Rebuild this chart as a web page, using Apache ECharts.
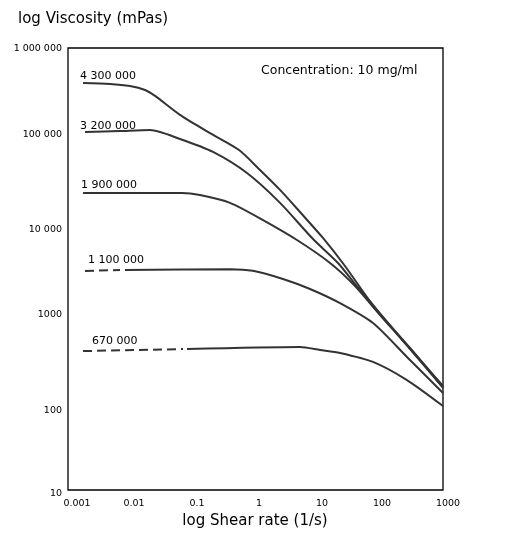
<!DOCTYPE html>
<html>
<head>
<meta charset="utf-8">
<script src="https://cdn.jsdelivr.net/npm/echarts@6/dist/echarts.min.js"></script>
<style>
  html, body { margin: 0; padding: 0; background: #fff; }
  #chart { width: 515px; height: 552px; }
</style>
</head>
<body>
<div id="chart"></div>
<script>
// tick labels (one per decade)
const xTickLabels = ['0.001', '0.01', '0.1', '1', '10', '100', '1000'];
const yTickLabels = ['10', '100', '1000', '10 000', '100 000', '1 000 000'];

// viscosity curves: [shear rate (1/s), viscosity (mPas)], one per molecular weight
const mw4300 = [[0.00174, 402000], [0.0047, 392000], [0.0098, 371000], [0.0171, 335000], [0.0247, 287000],
  [0.062, 175000], [0.187, 109000], [0.545, 70100], [1.18, 41700], [2.47, 24800], [5.15, 13960],
  [12.0, 7100], [27.0, 3420], [67.9, 1370], [205, 538], [1000, 150]];
const mw3200 = [[0.00187, 112000], [0.0068, 115000], [0.0205, 118000], [0.062, 93500], [0.209, 66700],
  [0.731, 38500], [2.47, 17700], [8.32, 6900], [20.9, 3700], [39.1, 2140], [98.2, 980], [297, 404], [1000, 146]];
const mw1900 = [[0.00174, 22900], [0.0205, 22900], [0.0667, 22900], [0.129, 21700], [0.391, 17700],
  [1.32, 11300], [4.61, 6730], [15.6, 3700], [39.1, 2030], [98.2, 955], [297, 393], [1000, 143]];
const mw1100Dash = [[0.00187, 3000], [0.00679, 3080]];
const mw1100 = [[0.00817, 3080], [0.4, 3150], [0.9, 3020], [2.75, 2440], [7.45, 1880], [22.5, 1300],
  [75.9, 774], [265, 320], [1000, 125]];
const mw670Dash = [[0.00174, 373], [0.0692, 393]];
const mw670 = [[0.0802, 393], [5.15, 415], [10.8, 384], [22.5, 355], [75.9, 281], [265, 175], [1000, 89]];

const curveNames = ['4 300 000', '3 200 000', '1 900 000', '1 100 000', '670 000'];

// small per-label nudges (px) so tick labels sit where the original drawing put them
const xLabelShift = [9, 3.5, 4, 3.5, 4, 1.5, 5];
const yLabelShift = [4, 9, 1, 5, -2, 1];

const LINE = '#333';
const FONT = '"DejaVu Sans", Verdana, sans-serif';

function solid(name, data) {
  return {
    name, type: 'line', data, showSymbol: false, smooth: 0.25,
    lineStyle: { color: LINE, width: 2 }, silent: true
  };
}
function dashed(name, data) {
  return {
    name, type: 'line', data, showSymbol: false,
    lineStyle: { color: LINE, width: 2, type: [9, 5] }, silent: true
  };
}

const xRich = {}, yRich = {};
xLabelShift.forEach((s, i) => {
  xRich['x' + i] = { fontSize: 9.5, color: '#000', fontFamily: FONT, padding: [0, 0, 0, 2 * s] };
});
yLabelShift.forEach((s, i) => {
  yRich['y' + i] = { fontSize: 9.5, color: '#000', fontFamily: FONT, padding: s > 0 ? [2 * s, 0, 0, 0] : [0, 0, -2 * s, 0] };
});

const chart = echarts.init(document.getElementById('chart'));
chart.setOption({
  animation: false,
  textStyle: { fontFamily: FONT },
  grid: { left: 68, right: 72, top: 48, bottom: 62, show: true, borderColor: '#000', borderWidth: 1.3 },
  xAxis: {
    type: 'log', logBase: 10, min: 0.001, max: 1000, splitNumber: 6,
    axisLine: { show: false }, axisTick: { show: false }, splitLine: { show: false },
    axisLabel: {
      fontSize: 9.5, color: '#000', margin: 9, rich: xRich,
      formatter: v => {
        const i = Math.round(Math.log10(v)) + 3;
        return '{x' + i + '|' + xTickLabels[i] + '}';
      }
    }
  },
  yAxis: {
    type: 'log', logBase: 10, min: 10, max: 1000000, splitNumber: 5,
    axisLine: { show: false }, axisTick: { show: false }, splitLine: { show: false },
    axisLabel: {
      fontSize: 9.5, color: '#000', margin: 6, rich: yRich,
      formatter: v => {
        const i = Math.round(Math.log10(v)) - 1;
        return '{y' + i + '|' + yTickLabels[i] + '}';
      }
    }
  },
  series: [
    solid(curveNames[0], mw4300),
    solid(curveNames[1], mw3200),
    solid(curveNames[2], mw1900),
    dashed(curveNames[3], mw1100Dash),
    solid(curveNames[3], mw1100),
    dashed(curveNames[4], mw670Dash),
    solid(curveNames[4], mw670)
  ],
  graphic: [
    { type: 'text', left: 18, top: 12, style: { text: 'log Viscosity (mPas)', font: '15px ' + FONT, fill: '#000' } },
    { type: 'text', x: 255, y: 521, style: { text: 'log Shear rate (1/s)', font: '15px ' + FONT, fill: '#000', align: 'center', verticalAlign: 'middle' } },
    { type: 'text', x: 261, y: 71, style: { text: 'Concentration: 10 mg/ml', font: '12.5px ' + FONT, fill: '#000', verticalAlign: 'middle' } },
    { type: 'text', x: 80, y: 76, style: { text: curveNames[0], font: '11px ' + FONT, fill: '#000', verticalAlign: 'middle' } },
    { type: 'text', x: 80, y: 126, style: { text: curveNames[1], font: '11px ' + FONT, fill: '#000', verticalAlign: 'middle' } },
    { type: 'text', x: 81, y: 185, style: { text: curveNames[2], font: '11px ' + FONT, fill: '#000', verticalAlign: 'middle' } },
    { type: 'text', x: 88, y: 260, style: { text: curveNames[3], font: '11px ' + FONT, fill: '#000', verticalAlign: 'middle' } },
    { type: 'text', x: 92, y: 341, style: { text: curveNames[4], font: '11px ' + FONT, fill: '#000', verticalAlign: 'middle' } }
  ]
});
</script>
</body>
</html>
